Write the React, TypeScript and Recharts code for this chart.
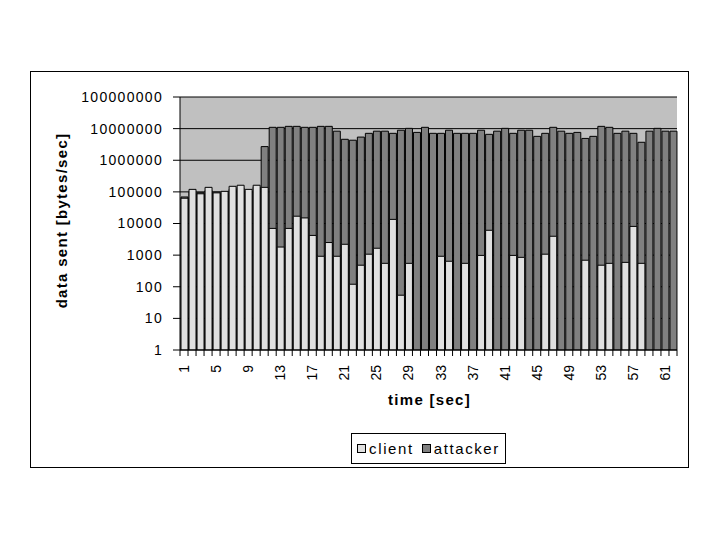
import { BarChart, Bar, XAxis, YAxis, CartesianGrid, Label } from 'recharts';

// seconds on the x axis
const seconds = [
  1, 2, 3, 4, 5, 6, 7, 8, 9, 10, 11, 12, 13, 14, 15, 16, 17, 18, 19, 20, 21,
  22, 23, 24, 25, 26, 27, 28, 29, 30, 31, 32, 33, 34, 35, 36, 37, 38, 39, 40,
  41, 42, 43, 44, 45, 46, 47, 48, 49, 50, 51, 52, 53, 54, 55, 56, 57, 58, 59,
  60, 61, 62,
];

// bytes/sec, null = nothing sent
const client = [
  63000, 120000, 87000, 139000, 93000, 104000, 150000, 162000, 120000, 162000,
  139000, 7000, 1800, 7000, 17000, 15000, 4200, 920, 2500, 920, 2200, 120, 480,
  1070, 1650, 550, 13500, 54, 550, null, null, null, 920, 640, null, 550, null,
  980, 6100, null, null, 980, 850, null, null, 1070, 3950, null, null, null,
  690, null, 480, 550, null, 590, 8100, 550, null, null, null, null,
];

const attacker = [
  69000, 100000, 94000, 110000, 98000, 90000, 120000, 130000, 100000, 140000,
  2700000, 11000000, 11000000, 11800000, 11800000, 11000000, 11000000,
  11800000, 11800000, 8300000, 4600000, 4300000, 5400000, 7100000, 8300000,
  8300000, 7100000, 8900000, 10200000, 7600000, 11000000, 7100000, 7100000,
  8900000, 7100000, 7100000, 7100000, 8900000, 6600000, 8300000, 10200000,
  7100000, 8900000, 8900000, 5700000, 7100000, 11000000, 8300000, 7100000,
  7600000, 4900000, 5700000, 11800000, 11000000, 7100000, 8300000, 7100000,
  3700000, 8300000, 10200000, 8300000, 8300000,
];

const yTicks = [1, 10, 100, 1000, 10000, 100000, 1000000, 10000000, 100000000];

const seriesNames = ['client', 'attacker'];
const seriesColors = ['#E0E0E0', '#808080'];

const data = seconds.map((t, i) => ({
  t,
  client: client[i],
  attacker: attacker[i],
}));

const FONT = '"Liberation Sans", Arial, Helvetica, sans-serif';
const PLOT_LEFT = 180;
const PLOT_TOP = 97;
const PLOT_RIGHT = 677;
const PLOT_BOTTOM = 350;
const BAND = (PLOT_RIGHT - PLOT_LEFT) / seconds.length;

function TimeTick({ x, y, index, payload }: any) {
  const left = x - BAND / 2;
  const ty = y + 15;
  return (
    <g>
      <line x1={left} x2={left} y1={y} y2={y + 6} stroke="#000" />
      {index === seconds.length - 1 && (
        <line x1={x + BAND / 2} x2={x + BAND / 2} y1={y} y2={y + 6} stroke="#000" />
      )}
      {index % 4 === 0 && (
        <text
          x={x}
          y={ty}
          transform={`rotate(-90 ${x} ${ty})`}
          textAnchor="end"
          dy="0.36em"
          fontSize={14}
          fill="#000"
        >
          {payload.value}
        </text>
      )}
    </g>
  );
}

export default function App() {
  return (
    <div
      style={{
        position: 'absolute',
        left: 0,
        top: 0,
        width: 720,
        height: 540,
        background: '#fff',
        fontFamily: FONT,
      }}
    >
      {/* chart frame */}
      <div
        style={{
          position: 'absolute',
          left: 30,
          top: 71,
          width: 659,
          height: 397,
          border: '1px solid #000',
          boxSizing: 'border-box',
        }}
      />
      <div style={{ position: 'absolute', left: 0, top: 0 }}>
        <BarChart
          width={720}
          height={540}
          data={data}
          margin={{ top: PLOT_TOP, right: 720 - PLOT_RIGHT, bottom: 540 - PLOT_BOTTOM - 60, left: 0 }}
          barSize={7}
          style={{ fontFamily: FONT }}
        >
          <CartesianGrid
            xAxisId="a"
            vertical={false}
            stroke="#000"
            fill="#C0C0C0"
            fillOpacity={1}
          />
          <Bar
            dataKey="attacker"
            name={seriesNames[1]}
            xAxisId="b"
            fill={seriesColors[1]}
            stroke="#000"
            strokeWidth={1}
            isAnimationActive={false}
          />
          <Bar
            dataKey="client"
            name={seriesNames[0]}
            xAxisId="a"
            fill={seriesColors[0]}
            stroke="#000"
            strokeWidth={1}
            isAnimationActive={false}
          />
          <XAxis
            xAxisId="a"
            dataKey="t"
            height={60}
            interval={0}
            tickSize={0}
            tickMargin={0}
            tickLine={false}
            axisLine={{ stroke: '#000' }}
            tick={<TimeTick />}
          >
            <Label
              content={({ viewBox }: any) => (
                <text
                  x={viewBox.x + viewBox.width / 2 + 1}
                  y={viewBox.y + 54.5}
                  textAnchor="middle"
                  fontSize={15}
                  fontWeight="bold"
                  letterSpacing={1.3}
                  fill="#000"
                >
                  time [sec]
                </text>
              )}
            />
          </XAxis>
          <XAxis
            xAxisId="b"
            dataKey="t"
            orientation="top"
            height={0}
            tick={false}
            tickLine={false}
            axisLine={{ stroke: '#808080' }}
          />
          <YAxis
            scale="log"
            domain={[1, 100000000]}
            allowDataOverflow
            ticks={yTicks}
            interval={0}
            width={PLOT_LEFT}
            tickSize={7}
            tickMargin={10}
            axisLine={{ stroke: '#000' }}
            tickLine={{ stroke: '#000' }}
            tick={{ fontSize: 14, fill: '#000', letterSpacing: 1.3 }}
            tickFormatter={(v: number) => String(v)}
          >
            <Label
              content={({ viewBox }: any) => {
                const lx = viewBox.x + 67;
                const ly = viewBox.y + viewBox.height / 2 - 3;
                return (
                  <text
                    x={lx}
                    y={ly}
                    transform={`rotate(-90 ${lx} ${ly})`}
                    textAnchor="middle"
                    fontSize={15}
                    fontWeight="bold"
                    letterSpacing={1.3}
                    fill="#000"
                  >
                    data sent [bytes/sec]
                  </text>
                );
              }}
            />
          </YAxis>
          <YAxis
            yAxisId="r"
            orientation="right"
            width={0}
            tick={false}
            tickLine={false}
            axisLine={{ stroke: '#808080' }}
          />
        </BarChart>
      </div>
      {/* legend */}
      <div
        style={{
          position: 'absolute',
          left: 351,
          top: 433,
          width: 155,
          height: 31,
          border: '1px solid #000',
          boxSizing: 'border-box',
          background: '#fff',
          display: 'flex',
          alignItems: 'center',
          justifyContent: 'center',
          gap: 8,
          fontSize: 15,
          letterSpacing: 1.6,
          color: '#000',
        }}
      >
        {seriesNames.map((name, i) => (
          <div key={name} style={{ display: 'flex', alignItems: 'center', gap: 3 }}>
            <span
              style={{
                width: 7,
                height: 7,
                border: '1px solid #000',
                background: seriesColors[i],
                display: 'inline-block',
              }}
            />
            <span>{name}</span>
          </div>
        ))}
      </div>
    </div>
  );
}
